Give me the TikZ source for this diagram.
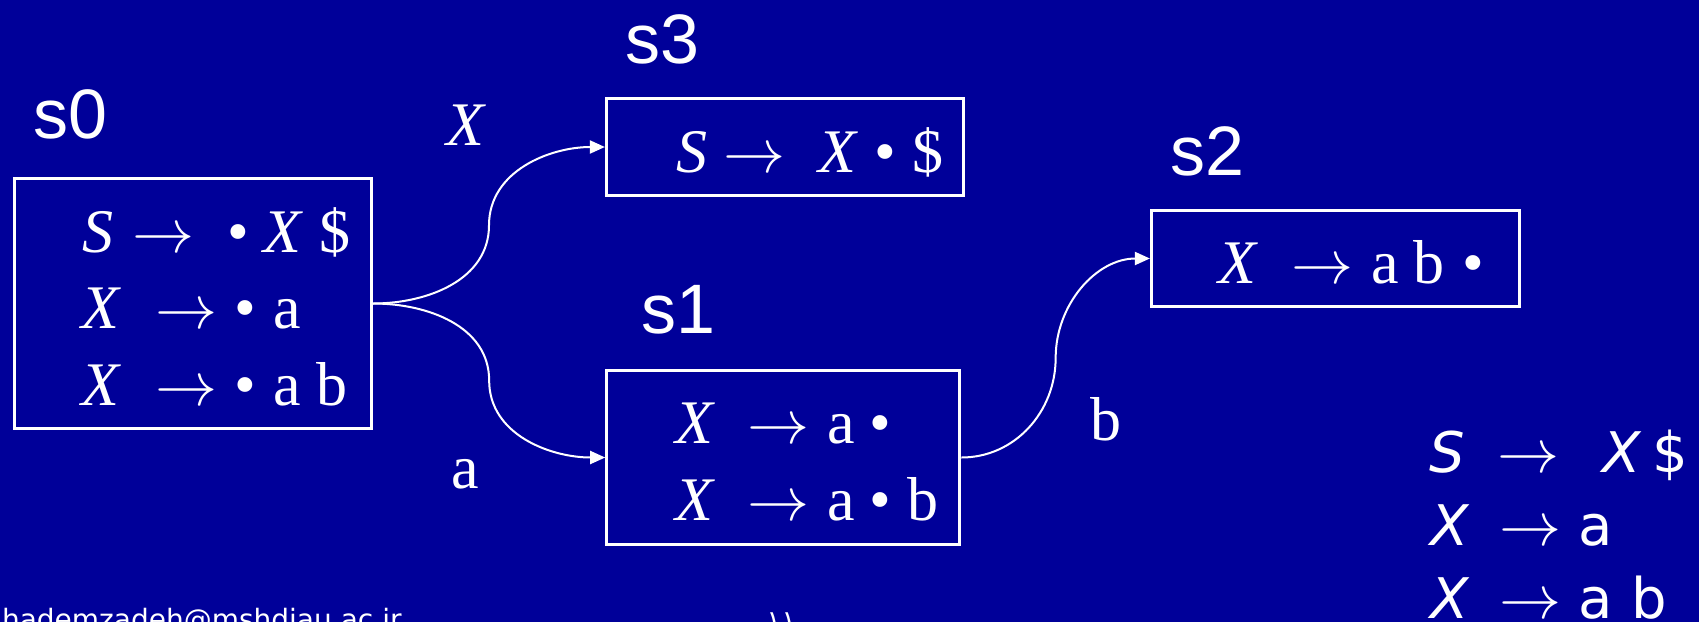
\documentclass[tikz,border=0pt]{standalone}
\usepackage{fontspec}
\setmainfont{Liberation Serif}
\setsansfont{Liberation Sans}
\newfontfamily\dejavu{DejaVu Sans}
\newfontfamily\arabicfont[Script=Arabic]{DejaVu Sans}
\TeXXeTstate=1
\usetikzlibrary{arrows.meta,calc}
\definecolor{bg}{RGB}{0,0,153}
\newcommand\pc[2]{\makebox[0pt][l]{\hspace*{#1pt}\makebox[0pt][c]{#2}}}
\newcommand\ar{{\fontsize{10}{10}\selectfont\scalebox{6.2}{$\rightarrow$}}}
\newcommand\bu{\textbullet}
\newcommand\tsz{\fontsize{62}{62}\selectfont}
\newcommand\lsz{\sffamily\fontsize{70}{70}\selectfont}
\newcommand\gsz{\dejavu\fontsize{56}{56}\selectfont}
\tikzset{
  statebox/.style={draw=white, line width=3.2pt, inner sep=0pt},
  conn/.style={draw=white, line width=2pt, -{Triangle[length=15pt,width=13pt]}},
  lbl/.style={text=white, inner sep=0pt, outer sep=0pt, anchor=base west},
}
\begin{document}
\begin{tikzpicture}[x=1pt,y=-1pt]
\useasboundingbox (0,0) rectangle (1699,622);
\fill[bg] (0,0) rectangle (1699,622);
\clip (0,0) rectangle (1699,622);
% state boxes
\node[statebox, minimum width=357pt, minimum height=250pt] (s0) at (193,303.5) {};
\node[statebox, minimum width=357pt, minimum height=97pt] (s3) at (785,147) {};
\node[statebox, minimum width=353pt, minimum height=174pt] (s1) at (783.3,457.5) {};
\node[statebox, minimum width=368pt, minimum height=96pt] (s2) at (1335.5,258.5) {};
% state names
\node[lbl] (n0) at (33,138) {\lsz s0};
\node[lbl] (n3) at (625,63) {\lsz s3};
\node[lbl] (n1) at (641,333) {\lsz s1};
\node[lbl] (n2) at (1170,175) {\lsz s2};
% items
\node[lbl] (s0a) at (0,252) {\tsz\pc{97.5}{\textit{S}}\pc{162.5}{\ar}\pc{238}{\bu}\pc{282.5}{\textit{X}}\pc{335}{\$}};
\node[lbl] (s0b) at (0,328) {\tsz\pc{101}{\textit{X}}\pc{186}{\ar}\pc{245}{\bu}\pc{286.5}{a}};
\node[lbl] (s0c) at (0,405) {\tsz\pc{101}{\textit{X}}\pc{186}{\ar}\pc{245}{\bu}\pc{286.5}{a}\pc{331.5}{b}};
\node[lbl] (s3a) at (0,172) {\tsz\pc{691}{\textit{S}}\pc{754}{\ar}\pc{837.5}{\textit{X}}\pc{885}{\bu}\pc{927.5}{\$}};
\node[lbl] (s1a) at (0,443) {\tsz\pc{695}{\textit{X}}\pc{778}{\ar}\pc{840.5}{a}\pc{880}{\bu}};
\node[lbl] (s1b) at (0,520) {\tsz\pc{695}{\textit{X}}\pc{778}{\ar}\pc{840.5}{a}\pc{880}{\bu}\pc{923}{b}};
\node[lbl] (s2a) at (0,283) {\tsz\pc{1237.5}{\textit{X}}\pc{1321.5}{\ar}\pc{1384.5}{a}\pc{1428.5}{b}\pc{1473}{\bu}};
% connectors
\draw[conn] (s0.east) to[out=0,in=-90] ($(s0.east)!0.5!(s3.west)$) to[out=90,in=180] (s3.west);
\draw[conn] (s0.east) to[out=0,in=90] ($(s0.east)!0.5!(s1.west)$) to[out=-90,in=180] (s1.west);
\draw[conn] (s1.east) to[out=0,in=-90] ($(s1.east)!0.5!(s2.west)$) to[out=90,in=180] (s2.west);
% edge labels
\node[lbl] (lX) at (0,145) {\tsz\pc{466}{\textit{X}}};
\node[lbl] (la) at (0,488) {\tsz\pc{465}{a}};
\node[lbl] (lb) at (0,440) {\tsz\pc{1105}{b}};
% grammar
\node[lbl] (g1) at (0,472) {\gsz\pc{1447}{\textit{S}}\pc{1528.5}{\ar}\pc{1621.5}{\textit{X}}\pc{1670}{\$}};
\node[lbl] (g2) at (0,545) {\gsz\pc{1450}{\textit{X}}\pc{1529.5}{\ar}\pc{1595}{a}};
\node[lbl] (g3) at (0,618) {\gsz\pc{1450}{\textit{X}}\pc{1529.5}{\ar}\pc{1595}{a}\pc{1648.5}{b}};
% footer
\node[lbl] (mail) at (2,629) {\dejavu\fontsize{28}{28}\selectfont hademzadeh@mshdiau.ac.ir};
\node[lbl] (page) at (0,630) {\arabicfont\fontsize{28}{28}\selectfont\pc{781}{\beginR ١١\endR}};
\end{tikzpicture}
\end{document}
